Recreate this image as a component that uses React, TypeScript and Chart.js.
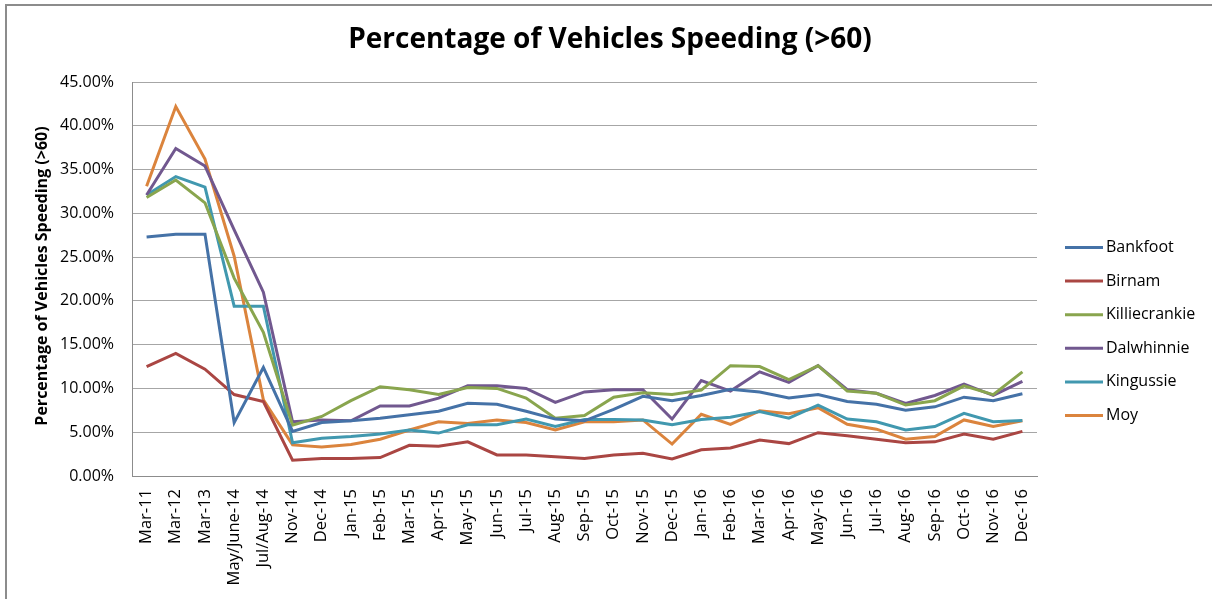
import React, { useEffect, useRef } from "react";
import { Chart, registerables } from "chart.js";

Chart.register(...registerables);

const categories = [
  "Mar-11", "Mar-12", "Mar-13", "May/June-14", "Jul/Aug-14", "Nov-14", "Dec-14",
  "Jan-15", "Feb-15", "Mar-15", "Apr-15", "May-15", "Jun-15", "Jul-15", "Aug-15",
  "Sep-15", "Oct-15", "Nov-15", "Dec-15", "Jan-16", "Feb-16", "Mar-16", "Apr-16",
  "May-16", "Jun-16", "Jul-16", "Aug-16", "Sep-16", "Oct-16", "Nov-16", "Dec-16",
];

const bankfoot = [27.3, 27.6, 27.6, 6.1, 12.4, 5.1, 6.1, 6.3, 6.6, 7.0, 7.4, 8.3, 8.2, 7.4, 6.5, 6.3, 7.6, 9.1, 8.6, 9.2, 9.9, 9.6, 8.9, 9.3, 8.5, 8.2, 7.5, 7.9, 9.0, 8.6, 9.4];
const birnam = [12.5, 14.0, 12.2, 9.3, 8.5, 1.8, 2.0, 2.0, 2.1, 3.5, 3.4, 3.9, 2.4, 2.4, 2.2, 2.0, 2.4, 2.6, 1.95, 3.0, 3.2, 4.1, 3.7, 4.95, 4.6, 4.2, 3.8, 3.9, 4.8, 4.2, 5.1];
const killiecrankie = [31.8, 33.8, 31.2, 22.6, 16.4, 5.8, 6.8, 8.6, 10.2, 9.85, 9.3, 10.1, 10.0, 8.9, 6.6, 6.9, 9.0, 9.5, 9.3, 9.8, 12.6, 12.5, 11.0, 12.6, 9.7, 9.45, 8.1, 8.6, 10.3, 9.3, 11.9];
const dalwhinnie = [32.1, 37.4, 35.4, 28.1, 21.0, 6.2, 6.4, 6.3, 8.0, 8.0, 8.9, 10.3, 10.3, 10.0, 8.4, 9.6, 9.85, 9.85, 6.5, 10.9, 9.7, 11.9, 10.7, 12.6, 9.85, 9.45, 8.3, 9.2, 10.5, 9.2, 10.8];
const kingussie = [32.1, 34.2, 33.0, 19.4, 19.4, 3.8, 4.3, 4.5, 4.8, 5.25, 4.9, 5.85, 5.85, 6.5, 5.65, 6.45, 6.45, 6.4, 5.85, 6.45, 6.7, 7.35, 6.6, 8.1, 6.5, 6.2, 5.25, 5.65, 7.15, 6.2, 6.35];
const moy = [33.1, 42.2, 36.2, 25.1, 8.7, 3.55, 3.3, 3.6, 4.2, 5.25, 6.2, 6.0, 6.4, 6.1, 5.25, 6.2, 6.2, 6.4, 3.65, 7.05, 5.9, 7.45, 7.1, 7.8, 5.9, 5.35, 4.2, 4.5, 6.4, 5.65, 6.3];

const seriesNames = ["Bankfoot", "Birnam", "Killiecrankie", "Dalwhinnie", "Kingussie", "Moy"];
const seriesValues = [bankfoot, birnam, killiecrankie, dalwhinnie, kingussie, moy];
const seriesColors = ["#4572A7", "#AA4643", "#89A54E", "#71588F", "#4198AF", "#DB843D"];

const chartTitle = "Percentage of Vehicles Speeding (>60)";
const yAxisTitle = "Percentage of Vehicles Speeding (>60)";

const FONT = "'Open Sans', 'DejaVu Sans', sans-serif";

const decorPlugin = {
  id: "decor",
  afterDraw(chart: any) {
    const ctx = chart.ctx as CanvasRenderingContext2D;
    ctx.save();
    // outer frame (top and left)
    ctx.strokeStyle = "#8c8c8c";
    ctx.lineWidth = 2;
    ctx.beginPath();
    ctx.moveTo(6, 599);
    ctx.lineTo(6, 5);
    ctx.lineTo(1212, 5);
    ctx.stroke();

    // title
    ctx.fillStyle = "#000";
    ctx.font = `bold 28px ${FONT}`;
    ctx.textAlign = "center";
    ctx.textBaseline = "middle";
    ctx.fillText(chartTitle, 610, 40);

    // y axis title
    ctx.save();
    ctx.translate(42, 276);
    ctx.rotate(-Math.PI / 2);
    ctx.font = `bold 16px ${FONT}`;
    ctx.fillText(yAxisTitle, 0, 0);
    ctx.restore();

    // legend
    const ds = chart.data.datasets;
    ctx.font = `16px ${FONT}`;
    ctx.textAlign = "left";
    ctx.textBaseline = "middle";
    for (let i = 0; i < ds.length; i++) {
      const y = 247.5 + i * 33.6;
      ctx.strokeStyle = ds[i].borderColor;
      ctx.lineWidth = 3;
      ctx.beginPath();
      ctx.moveTo(1065, y);
      ctx.lineTo(1103, y);
      ctx.stroke();
      ctx.fillStyle = "#000";
      ctx.fillText(ds[i].label, 1106, y);
    }
    ctx.restore();
  },
};

export default function App() {
  const ref = useRef<HTMLCanvasElement | null>(null);
  useEffect(() => {
    if (!ref.current) return;
    const chart = new Chart(ref.current, {
      type: "line",
      data: {
        labels: categories,
        datasets: seriesNames.map((name, i) => ({
          label: name,
          data: seriesValues[i],
          borderColor: seriesColors[i],
          backgroundColor: seriesColors[i],
          borderWidth: 3,
          pointRadius: 0,
          pointHoverRadius: 0,
          tension: 0,
          fill: false,
        })),
      },
      options: {
        animation: false,
        responsive: false,
        maintainAspectRatio: false,
        layout: { padding: { top: 82, left: 0, right: 175, bottom: 0 } },
        plugins: {
          legend: { display: false },
          title: { display: false },
          tooltip: { enabled: false },
        },
        scales: {
          x: {
            type: "category",
            offset: true,
            grid: { display: false, drawTicks: false },
            border: { display: true, color: "#8c8c8c", width: 1 },
            ticks: {
              autoSkip: false,
              minRotation: 90,
              maxRotation: 90,
              padding: 13,
              color: "#000",
              font: { family: FONT, size: 16.5 },
            },
            afterFit(scale: any) {
              scale.height = 123;
            },
          },
          y: {
            min: 0,
            max: 45,
            grid: { color: "#a6a6a6", lineWidth: 1, drawTicks: false },
            border: { display: true, color: "#8c8c8c", width: 1 },
            ticks: {
              stepSize: 5,
              padding: 18,
              color: "#000",
              font: { family: FONT, size: 16 },
              callback: (v: any) => Number(v).toFixed(2) + "%",
            },
            afterFit(scale: any) {
              scale.width = 132;
            },
          },
        },
      },
      plugins: [decorPlugin],
    });
    return () => chart.destroy();
  }, []);
  return (
    <div style={{ position: "fixed", left: 0, top: 0, width: 1212, height: 599, background: "#fff" }}>
      <canvas ref={ref} width={1212} height={599} style={{ display: "block" }} />
    </div>
  );
}
